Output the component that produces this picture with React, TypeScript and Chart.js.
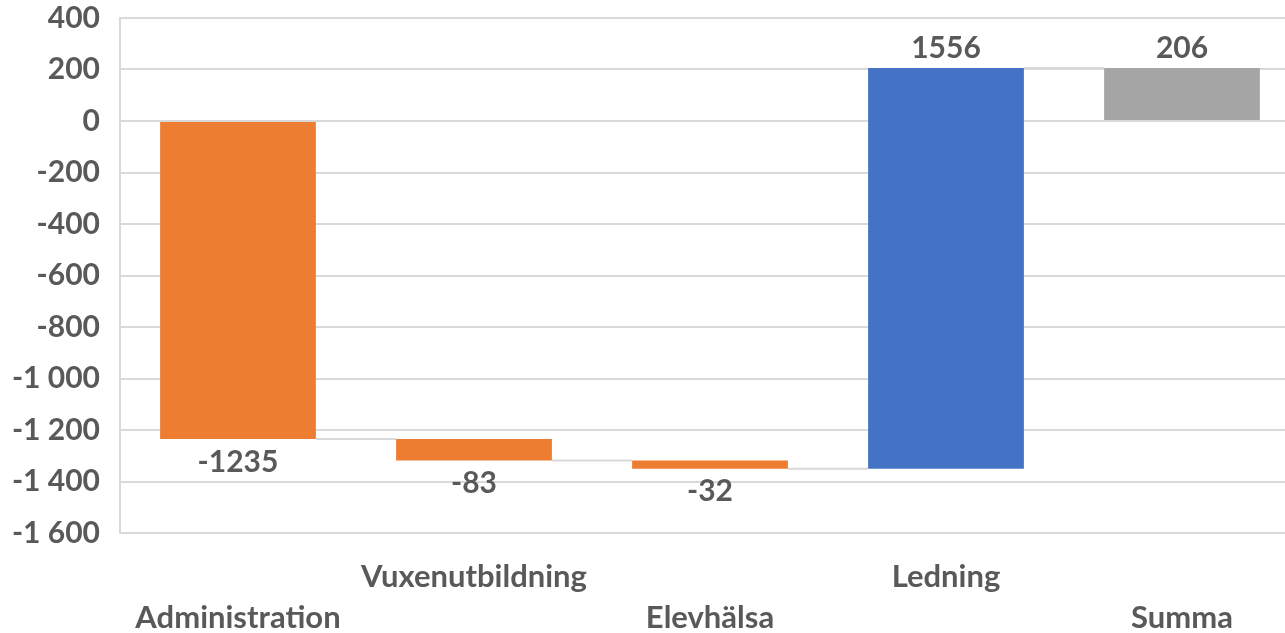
import { useEffect, useRef } from "react";
import { Chart, registerables } from "chart.js";

Chart.register(...registerables);

const categories = ["Administration", "Vuxenutbildning", "Elevhälsa", "Ledning", "Summa"];
const deltas = [-1235, -83, -32, 1556];
const total = 206;
const colors = ["#ED7D31", "#ED7D31", "#ED7D31", "#4472C4", "#A5A5A5"];
const yMin = -1600;
const yMax = 400;
const yStep = 200;

const FONT = "Lato, 'Open Sans', sans-serif";
const TEXT = "#595959";
const GRID = "#D9D9D9";

function buildRanges(): [number, number][] {
  const out: [number, number][] = [];
  let cum = 0;
  for (const d of deltas) {
    out.push([cum, cum + d]);
    cum += d;
  }
  out.push([0, total]);
  return out;
}

const valueLabels = [...deltas, total];

function fmt(v: number): string {
  const s = Math.abs(v).toString().replace(/\B(?=(\d{3})+(?!\d))/g, " ");
  return (v < 0 ? "-" : "") + s;
}

const waterfallPlugin = {
  id: "waterfallDeco",
  afterDatasetsDraw(chart: any) {
    const ctx = chart.ctx;
    const meta = chart.getDatasetMeta(0);
    const ys = chart.scales.y;
    const ranges = buildRanges();
    ctx.save();
    ctx.strokeStyle = GRID;
    ctx.lineWidth = 2;
    for (let i = 0; i < meta.data.length - 1; i++) {
      const a = meta.data[i] as any;
      const b = meta.data[i + 1] as any;
      const level = ranges[i][1];
      const py = ys.getPixelForValue(level);
      ctx.beginPath();
      ctx.moveTo(a.x + a.width / 2, py);
      ctx.lineTo(b.x - b.width / 2, py);
      ctx.stroke();
    }
    ctx.fillStyle = TEXT;
    ctx.font = `bold 30px ${FONT}`;
    ctx.textAlign = "center";
    ctx.textBaseline = "middle";
    meta.data.forEach((el: any, i: number) => {
      const v = valueLabels[i];
      const top = Math.min(el.y, el.base);
      const bottom = Math.max(el.y, el.base);
      const y = v < 0 ? bottom + 23 : top - 20;
      ctx.fillText(String(v), el.x, y);
    });
    ctx.restore();
  },
};

export default function App() {
  const ref = useRef<HTMLCanvasElement>(null);
  useEffect(() => {
    if (!ref.current) return;
    const labels = categories.map((c, i) => (i % 2 === 0 ? ["", c] : [c, ""]));
    const chart = new Chart(ref.current, {
      type: "bar",
      data: {
        labels,
        datasets: [
          {
            data: buildRanges() as any,
            backgroundColor: colors,
            borderWidth: 0,
            categoryPercentage: 1,
            barPercentage: 0.66,
          },
        ],
      },
      options: {
        animation: false,
        responsive: true,
        maintainAspectRatio: false,
        layout: { padding: { top: 18, right: 0, left: 0, bottom: 0 } },
        plugins: { legend: { display: false }, tooltip: { enabled: false } },
        scales: {
          x: {
            grid: { display: false, drawTicks: false },
            border: { display: false },
            ticks: {
              color: TEXT,
              font: { family: FONT, size: 31, weight: "bold", lineHeight: 1.33 },
              maxRotation: 0,
              autoSkip: false,
              padding: 23,
            },
            afterFit(scale: any) {
              scale.height = 100;
            },
          },
          y: {
            min: yMin,
            max: yMax,
            grid: { color: GRID, lineWidth: 2, drawTicks: false },
            border: { display: true, color: GRID, width: 2 },
            ticks: {
              stepSize: yStep,
              color: TEXT,
              font: { family: FONT, size: 30, weight: "bold" },
              padding: 20,
              callback: (v: any) => fmt(Number(v)),
            },
            afterFit(scale: any) {
              scale.width = 120;
              scale.paddingTop = 0;
              scale.paddingBottom = 0;
            },
          },
        },
      },
      plugins: [waterfallPlugin],
    });
    return () => chart.destroy();
  }, []);
  return (
    <div style={{ position: "fixed", left: 0, top: 0, width: 1300, height: 633, background: "#fff" }}>
      <canvas ref={ref} />
    </div>
  );
}
